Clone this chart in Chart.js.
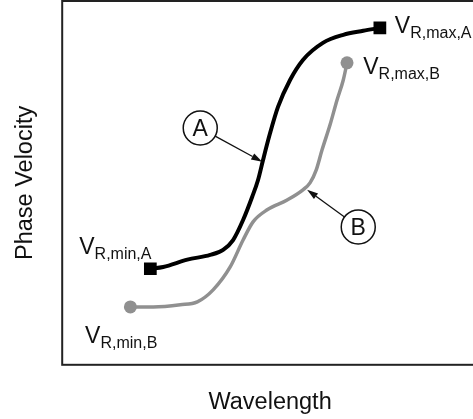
<!DOCTYPE html>
<html>
<head>
<meta charset="utf-8">
<script src="https://cdn.jsdelivr.net/npm/chart.js@4/dist/chart.umd.min.js"></script>
<style>
  html, body { margin: 0; padding: 0; overflow: hidden; background: #fff; }
  #wrap { width: 480px; height: 419px; position: relative; }
</style>
</head>
<body>
<div id="wrap"><canvas id="chart"></canvas></div>
<script>
// dispersion curves, wavelength (x) against phase velocity (y), arbitrary units 0-100
const wavelengthA = [21.2, 24.3, 30.1, 35.6, 38.7, 41.1, 43.5, 45.7, 47.1, 48.3, 50.0, 51.9, 54.8, 57.9, 62.7, 67.6, 72.4, 76.4];
const velocityA   = [26.4, 26.9, 28.9, 30.2, 31.6, 34.3, 39.8, 46.2, 50.8, 56.3, 63.7, 70.9, 78.3, 83.8, 88.5, 90.7, 91.8, 92.6];
const wavelengthB = [16.4, 21.9, 28.4, 32.5, 36.3, 40.4, 43.5, 45.9, 49.3, 54.1, 57.9, 59.6, 61.1, 62.5, 64.4, 66.1, 67.6, 68.5];
const velocityB   = [15.9, 15.9, 16.5, 17.3, 20.6, 26.9, 34.3, 39.3, 42.6, 45.3, 48.1, 50.0, 53.6, 59.1, 65.9, 72.8, 78.3, 83.0];

// end point labels: [main, subscript, x, y]
const endLabels = [
  ["V", "R,max,A", 80.0, 91.2],
  ["V", "R,max,B", 72.4, 79.9],
  ["V", "R,min,A", 4.1, 30.5],
  ["V", "R,min,B", 5.5, 6.0]
];
// curve callouts: [letter, circle x, circle y, arrow tip x, arrow tip y]
const callouts = [
  ["A", 33.2, 65.1, 48.1, 55.8],
  ["B", 71.2, 37.9, 58.9, 48.1]
];

const FONT = '"Liberation Sans", Arial, sans-serif';
const INK = "#111";

function toPoints(xs, ys) {
  return xs.map((x, i) => ({ x: x, y: ys[i] }));
}

// only the two ends of each curve get a marker
function endRadius(r) {
  return ctx => (ctx.dataIndex === 0 || ctx.dataIndex === ctx.dataset.data.length - 1) ? r : 0;
}

const frame = {
  id: "frame",
  afterDraw(chart) {
    const { ctx, chartArea: a } = chart;
    ctx.save();
    ctx.strokeStyle = "#222";
    ctx.lineWidth = 2;
    ctx.strokeRect(a.left, a.top, a.right - a.left, a.bottom - a.top);
    ctx.restore();
  }
};

const notes = {
  id: "notes",
  afterDatasetsDraw(chart) {
    const { ctx, scales: { x, y } } = chart;
    ctx.save();
    ctx.fillStyle = INK;
    ctx.strokeStyle = INK;
    ctx.textBaseline = "alphabetic";

    endLabels.forEach(l => {
      const px = x.getPixelForValue(l[2]);
      const py = y.getPixelForValue(l[3]);
      ctx.textAlign = "left";
      ctx.font = "23px " + FONT;
      ctx.fillText(l[0], px, py);
      const w = ctx.measureText(l[0]).width;
      ctx.font = "16px " + FONT;
      ctx.fillText(l[1], px + w, py + 5);
    });

    const r = 17;
    callouts.forEach(c => {
      const cx = x.getPixelForValue(c[1]);
      const cy = y.getPixelForValue(c[2]);
      const tx = x.getPixelForValue(c[3]);
      const ty = y.getPixelForValue(c[4]);
      ctx.lineWidth = 1.5;
      ctx.beginPath();
      ctx.arc(cx, cy, r, 0, Math.PI * 2);
      ctx.stroke();
      ctx.font = "23px " + FONT;
      ctx.textAlign = "center";
      ctx.fillText(c[0], cx, cy + 8);

      // arrow from the circle edge to the curve
      const ang = Math.atan2(ty - cy, tx - cx);
      const sx = cx + r * Math.cos(ang);
      const sy = cy + r * Math.sin(ang);
      const head = 11, half = 3.5;
      const bx = tx - head * Math.cos(ang);
      const by = ty - head * Math.sin(ang);
      ctx.lineWidth = 1.3;
      ctx.beginPath();
      ctx.moveTo(sx, sy);
      ctx.lineTo(bx, by);
      ctx.stroke();
      ctx.beginPath();
      ctx.moveTo(tx, ty);
      ctx.lineTo(bx - half * Math.sin(ang), by + half * Math.cos(ang));
      ctx.lineTo(bx + half * Math.sin(ang), by - half * Math.cos(ang));
      ctx.closePath();
      ctx.fill();
    });
    ctx.restore();
  }
};

new Chart(document.getElementById("chart"), {
  type: "scatter",
  data: {
    datasets: [
      {
        data: toPoints(wavelengthA, velocityA),
        showLine: true,
        borderColor: "#000",
        backgroundColor: "#000",
        borderWidth: 4,
        cubicInterpolationMode: "monotone",
        pointStyle: "rect",
        pointRadius: endRadius(9),
        pointBorderWidth: 0
      },
      {
        data: toPoints(wavelengthB, velocityB),
        showLine: true,
        borderColor: "#909090",
        backgroundColor: "#909090",
        borderWidth: 3.5,
        cubicInterpolationMode: "monotone",
        pointStyle: "circle",
        pointRadius: endRadius(6.5),
        pointBorderWidth: 0
      }
    ]
  },
  options: {
    responsive: true,
    maintainAspectRatio: false,
    animation: false,
    layout: { autoPadding: false, padding: { top: 1, right: 2, left: 0, bottom: 0 } },
    plugins: { legend: { display: false }, tooltip: { enabled: false } },
    scales: {
      x: {
        type: "linear", min: 0, max: 100,
        ticks: { display: false },
        grid: { display: false, drawTicks: false },
        border: { display: false },
        title: {
          display: true, text: "Wavelength", color: INK,
          font: { family: FONT, size: 23.5 },
          padding: { top: 24, bottom: 2 }
        }
      },
      y: {
        type: "linear", min: 0, max: 100,
        ticks: { display: false },
        grid: { display: false, drawTicks: false },
        border: { display: false },
        title: {
          display: true, text: "Phase Velocity", color: INK,
          font: { family: FONT, size: 23.5 },
          padding: { top: 11, bottom: 23 }
        }
      }
    }
  },
  plugins: [frame, notes]
});
</script>
</body>
</html>
